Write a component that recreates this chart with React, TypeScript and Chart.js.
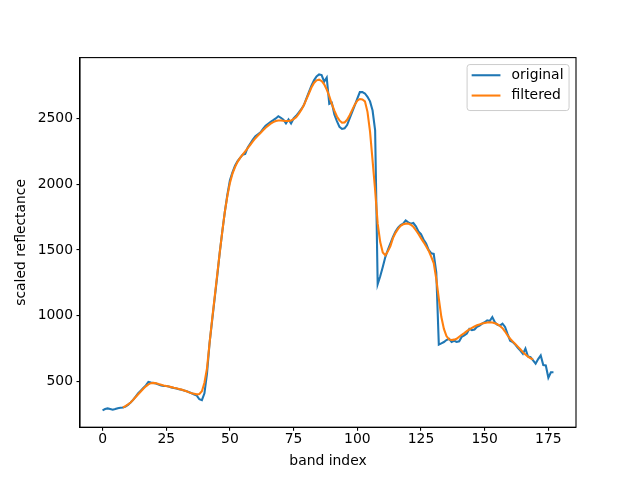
import React, { useEffect, useRef } from "react";
import { Chart, registerables } from "chart.js";

Chart.register(...registerables);

// band index 0..177
const original: number[] = [
  280, 290, 295, 290, 285, 290, 297, 300, 302, 310,
  322, 340, 360, 385, 410, 430, 450, 470, 497, 492,
  488, 484, 476, 470, 466, 465, 461, 455, 451, 446,
  441, 437, 431, 425, 418, 410, 400, 393, 365, 358,
  410, 560, 790, 960, 1130, 1300, 1480, 1640, 1790, 1920,
  2030, 2090, 2140, 2175, 2200, 2225, 2230, 2280, 2310, 2340,
  2365, 2380, 2395, 2420, 2445, 2460, 2475, 2487, 2500, 2517,
  2505, 2490, 2462, 2492, 2462, 2500, 2520, 2545, 2570, 2600,
  2650, 2700, 2750, 2790, 2820, 2835, 2830, 2780, 2810, 2610,
  2620, 2530, 2480, 2436, 2420, 2425, 2450, 2500, 2550, 2600,
  2650, 2700, 2700, 2690, 2665, 2630, 2560, 2410, 1240, 1300,
  1370, 1446, 1500, 1550, 1600, 1640, 1670, 1690, 1700, 1725,
  1710, 1700, 1705, 1680, 1640, 1620, 1580, 1550, 1500, 1475,
  1470, 1330, 780, 790, 800, 815, 825, 800, 810, 800,
  805, 840, 850, 865, 900, 890, 895, 915, 925, 940,
  950, 965, 960, 990, 950, 930, 925, 940, 915, 860,
  810, 800, 780, 755, 735, 710, 750, 690, 685, 660,
  635, 670, 698, 625, 622, 528, 570, 570,
];

// filtered values start at band index FILTER_START (valid part of the smoothing window)
const FILTER_START = 8;
const filtered: number[] = [
  302, 312,
  325, 340, 360, 382, 403, 424, 445, 463, 478, 487,
  489, 486, 480, 475, 470, 466, 462, 457, 452, 448,
  443, 438, 432, 425, 417, 410, 406, 402, 405, 425,
  490, 600, 790, 970, 1140, 1310, 1480, 1640, 1790, 1910,
  2010, 2080, 2130, 2170, 2200, 2225, 2250, 2275, 2300, 2325,
  2350, 2370, 2390, 2410, 2430, 2445, 2460, 2472, 2480, 2485,
  2485, 2482, 2480, 2480, 2485, 2495, 2510, 2535, 2565, 2600,
  2645, 2690, 2735, 2770, 2790, 2795, 2785, 2760, 2720, 2670,
  2610, 2560, 2515, 2485, 2468, 2470, 2490, 2525, 2565, 2605,
  2635, 2648, 2645, 2630, 2550, 2400, 2180, 1954, 1700, 1560,
  1480, 1460, 1490, 1530, 1590, 1630, 1660, 1683, 1695, 1700,
  1700, 1692, 1676, 1650, 1622, 1590, 1560, 1528, 1495, 1450,
  1400, 1280, 1130, 990, 900, 845, 820, 815, 818, 825,
  840, 855, 868, 883, 896, 908, 918, 927, 934, 940,
  945, 948, 950, 948, 942, 935, 922, 905, 880, 850,
  825, 805, 785, 765, 745, 723, 705, 688, 676, 668,
];

const xTicks: number[] = [0, 25, 50, 75, 100, 125, 150, 175];
const yTicks: number[] = [500, 1000, 1500, 2000, 2500];

const seriesLabels: string[] = ["original", "filtered"];
const xTitle = "band index";
const yTitle = "scaled reflectance";

const FONT = '"DejaVu Sans", sans-serif';
const FS = 13.9;

const framePlugin = {
  id: "mplFrame",
  afterDatasetsDraw(chart: any) {
    const { ctx, chartArea } = chart;
    ctx.save();
    ctx.strokeStyle = "#000";
    ctx.lineWidth = 1.1;
    ctx.strokeRect(chartArea.left, chartArea.top, chartArea.right - chartArea.left, chartArea.bottom - chartArea.top);
    ctx.restore();
  },
};

const legendPlugin = {
  id: "mplLegend",
  afterDraw(chart: any) {
    const { ctx, chartArea } = chart;
    const ds = chart.data.datasets;
    ctx.save();
    ctx.font = `${FS}px ${FONT}`;
    const tw = Math.max(...ds.map((d: any) => ctx.measureText(d.label).width));
    const pad = 0.4 * FS;
    const handle = 2.0 * FS;
    const gap = 0.8 * FS;
    const rowStep = 1.46 * FS;
    const w = pad + handle + gap + tw + pad;
    const h = 3.31 * FS;
    const right = chartArea.right - 0.5 * FS;
    const top = chartArea.top + 0.5 * FS;
    const left = right - w;
    const r = 0.2 * FS;
    ctx.beginPath();
    ctx.moveTo(left + r, top);
    ctx.lineTo(right - r, top);
    ctx.quadraticCurveTo(right, top, right, top + r);
    ctx.lineTo(right, top + h - r);
    ctx.quadraticCurveTo(right, top + h, right - r, top + h);
    ctx.lineTo(left + r, top + h);
    ctx.quadraticCurveTo(left, top + h, left, top + h - r);
    ctx.lineTo(left, top + r);
    ctx.quadraticCurveTo(left, top, left + r, top);
    ctx.closePath();
    ctx.fillStyle = "rgba(255,255,255,0.8)";
    ctx.fill();
    ctx.strokeStyle = "#cccccc";
    ctx.lineWidth = 1;
    ctx.stroke();
    ds.forEach((d: any, i: number) => {
      const cy = top + 0.77 * FS + i * rowStep;
      ctx.beginPath();
      ctx.strokeStyle = d.borderColor;
      ctx.lineWidth = d.borderWidth;
      ctx.moveTo(left + pad - 1, cy);
      ctx.lineTo(left + pad + handle, cy);
      ctx.stroke();
      ctx.fillStyle = "#000";
      ctx.textBaseline = "middle";
      ctx.textAlign = "left";
      ctx.fillText(d.label, left + pad + handle + gap, cy);
    });
    ctx.restore();
  },
};

export default function App() {
  const canvasRef = useRef<HTMLCanvasElement | null>(null);

  useEffect(() => {
    document.body.style.margin = "0";
    const canvas = canvasRef.current;
    if (!canvas) return;

    const origPts = original.map((v, i) => ({ x: i, y: v }));
    const filtPts = filtered.map((v, i) => ({ x: i + FILTER_START, y: v }));

    const xMinD = 0;
    const xMaxD = original.length - 1;
    const xm = (xMaxD - xMinD) * 0.05;
    const allY = [...original, ...filtered];
    const yMinD = Math.min(...allY);
    const yMaxD = Math.max(...allY);
    const ym = (yMaxD - yMinD) * 0.05;

    const chart = new Chart(canvas, {
      type: "line",
      data: {
        datasets: [
          {
            label: seriesLabels[0],
            data: origPts,
            borderColor: "#1f77b4",
            backgroundColor: "#1f77b4",
            borderWidth: 2.08,
            pointRadius: 0,
            tension: 0,
            order: 1,
          },
          {
            label: seriesLabels[1],
            data: filtPts,
            borderColor: "#ff7f0e",
            backgroundColor: "#ff7f0e",
            borderWidth: 2.08,
            pointRadius: 0,
            tension: 0,
            order: 0,
          },
        ],
      },
      options: {
        responsive: false,
        animation: false,
        devicePixelRatio: 1,
        layout: { padding: { left: 0, right: 64, top: 57.6, bottom: 0 } },
        plugins: {
          legend: { display: false },
          tooltip: { enabled: false },
        },
        scales: {
          x: {
            type: "linear",
            min: xMinD - xm,
            max: xMaxD + xm,
            afterBuildTicks: (scale: any) => {
              scale.ticks = xTicks.map((v) => ({ value: v }));
            },
            afterFit: (scale: any) => {
              scale.height = 52.8;
            },
            grid: {
              drawOnChartArea: false,
              drawTicks: true,
              tickLength: 3.5,
              color: "#000",
              lineWidth: 1.1,
            },
            border: { display: true, color: "#000", width: 1.1 },
            ticks: {
              color: "#000",
              font: { family: FONT, size: FS },
              padding: 0,
              maxRotation: 0,
              autoSkip: false,
              callback: (v: any) => String(v),
            },
            title: {
              display: true,
              text: xTitle,
              color: "#000",
              font: { family: FONT, size: FS },
              padding: { top: 0, bottom: 10.3 },
            },
          },
          y: {
            type: "linear",
            min: yMinD - ym,
            max: yMaxD + ym,
            afterBuildTicks: (scale: any) => {
              scale.ticks = yTicks.map((v) => ({ value: v }));
            },
            afterFit: (scale: any) => {
              scale.width = 80;
            },
            grid: {
              drawOnChartArea: false,
              drawTicks: true,
              tickLength: 3.5,
              color: "#000",
              lineWidth: 1.1,
            },
            border: { display: true, color: "#000", width: 1.1 },
            ticks: {
              color: "#000",
              font: { family: FONT, size: FS },
              padding: 3.5,
              autoSkip: false,
              callback: (v: any) => String(v),
            },
            title: {
              display: true,
              text: yTitle,
              color: "#000",
              font: { family: FONT, size: FS },
              padding: { top: 13, bottom: 0 },
            },
          },
        },
      },
      plugins: [framePlugin, legendPlugin],
    });

    return () => {
      chart.destroy();
    };
  }, []);

  return (
    <div style={{ width: 640, height: 480 }}>
      <canvas ref={canvasRef} width={640} height={480} style={{ display: "block" }} />
    </div>
  );
}
